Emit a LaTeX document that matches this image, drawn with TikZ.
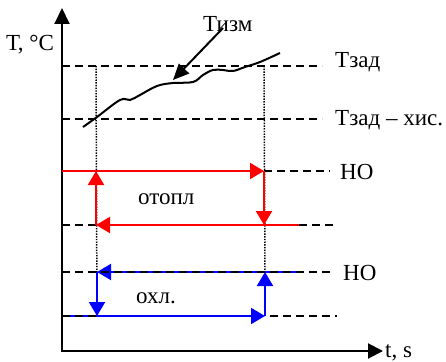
\documentclass[tikz,border=0pt]{standalone}
\usepackage{fontspec}
\setmainfont{Liberation Serif}
\usetikzlibrary{arrows.meta}
\begin{document}
\begin{tikzpicture}[x=1pt,y=-1pt,line join=miter,
 font=\fontsize{23}{27}\selectfont,
 axis/.style={line width=2pt,{Triangle[length=16pt,width=15pt]}-{Triangle[length=15pt,width=15pt]}},
 level/.style={line width=1.3pt,dash pattern=on 8pt off 5pt},
 guide/.style={line width=1.5pt,dash pattern=on 1.4pt off 1.3pt},
 relay/.style={line width=2pt,-{Triangle[length=14pt,width=16pt]}},
 lbl/.style={anchor=base west,inner sep=0pt}]
\useasboundingbox (0,0) rectangle (446,361);
% axes
\coordinate (O) at (62,351);
\coordinate (Ytop) at (62,8);
\coordinate (Xend) at (383,351);
\draw[axis] (Ytop)--(O)--(Xend);
\node[lbl] (tc) at (6,50) {Т, °С};
\node[lbl] (ts) at (385,357) {t, s};
% levels
\coordinate (set0) at (62,66);  \coordinate (set1) at (322,66);
\coordinate (hys0) at (62,119); \coordinate (hys1) at (322,119);
\draw[level] (set0)--(set1);
\draw[level] (hys0)--(hys1);
\node[lbl] (set) at (335,67) {Тзад};
\node[lbl] (hys) at (335,125) {Тзад – хис.};
% switch points
\coordinate (ga) at (96,66);  \coordinate (gb) at (264,66);
\coordinate (ha) at (96,171); \coordinate (hb) at (264,171);
\coordinate (la) at (96,225); \coordinate (lb) at (264,225);
\coordinate (ca) at (97,272); \coordinate (cb) at (265,272);
\coordinate (da) at (97,316); \coordinate (db) at (265,316);
\draw[guide] (ga)--(da);
\draw[guide] (gb)--(cb);
% heating
\coordinate (h0) at (62,171); \coordinate (h1) at (330,171);
\coordinate (l0) at (62,225); \coordinate (l1) at (299,225); \coordinate (l2) at (337,225);
\draw[level] (hb)--(h1);
\draw[level] (l0)--(la);
\draw[level] (l1)--(l2);
\begin{scope}[red]
\draw[relay] (h0)--(hb);
\draw[relay] (hb)--(lb);
\draw[relay] (l1)--(la);
\draw[relay] (la)--(ha);
\end{scope}
\node[lbl] (ho1) at (340,179) {НО};
\node[lbl] (heat) at (138,204) {отопл};
% cooling
\coordinate (c1) at (298,272); \coordinate (c0) at (62,272); \coordinate (c2) at (330,272);
\coordinate (d0) at (62,316); \coordinate (d1) at (270,316); \coordinate (d2) at (337,316);
\begin{scope}[blue]
\draw[relay] (c1)--(ca);
\draw[relay] (ca)--(da);
\draw[relay] (d0)--(db);
\draw[relay] (db)--(cb);
\end{scope}
\draw[level] (c0)--(c2);
\draw[level] (d0)--(da);
\draw[level] (d1)--(d2);
\node[lbl] (ho2) at (343,280) {НО};
\node[lbl] (cool) at (136,303) {охл.};
% measured temperature
\draw[line width=2pt] plot[smooth,tension=.6] coordinates {(83,127) (97,117) (120,100) (130,100)
 (140,95) (157,86) (173,83) (193,82) (203,75) (213,70) (223,70) (233,71) (245,67) (260,62) (280,53)};
\node[lbl] (meas) at (203,31) {Тизм};
\coordinate (p0) at (223,28); \coordinate (p1) at (173,80);
\draw[line width=2pt,-{Triangle[length=16pt,width=14pt]}] (p0)--(p1);
\end{tikzpicture}
\end{document}
